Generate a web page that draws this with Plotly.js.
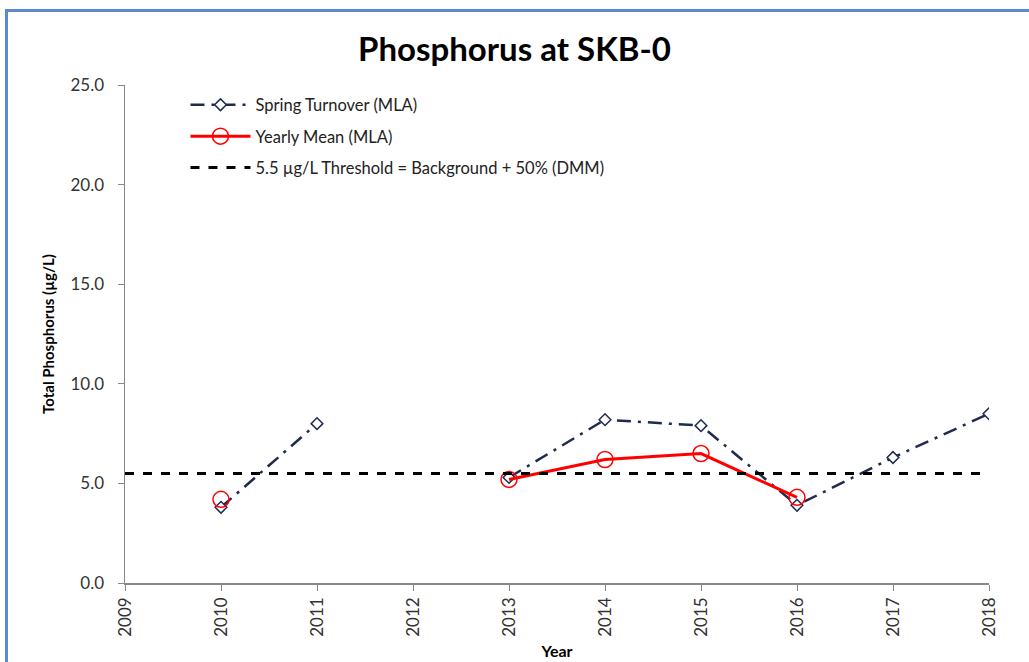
<!DOCTYPE html>
<html>
<head>
<meta charset="utf-8">
<script src="https://cdn.plot.ly/plotly-3.0.1.min.js"></script>
<style>
html,body{margin:0;padding:0;background:#fff;width:1029px;height:662px;overflow:hidden;}
#chart{position:absolute;left:0;top:0;width:1029px;height:662px;}
#frame{position:absolute;left:5px;top:9px;width:1060px;height:700px;border:3px solid #5a8ad0;pointer-events:none;}
</style>
</head>
<body>
<div id="chart"></div>
<div id="frame"></div>
<script>
const years = [2010, 2011, 2012, 2013, 2014, 2015, 2016, 2017, 2018];
const springTurnover = [3.8, 8.0, null, 5.3, 8.2, 7.9, 3.9, 6.3, 8.5];
const yearlyMean = [4.2, null, null, 5.2, 6.2, 6.5, 4.3, null, null];
const thresholdYears = [2009, 2018];
const thresholdValues = [5.5, 5.5];
const tickYears = [2009, 2010, 2011, 2012, 2013, 2014, 2015, 2016, 2017, 2018];

const font = "Lato, 'Open Sans', sans-serif";

const traces = [
  {
    x: years, y: springTurnover, name: 'Spring Turnover (MLA)', legendgroup: 'a',
    type: 'scatter', mode: 'lines+markers', connectgaps: false,
    line: {color: '#1f2a4f', width: 2.5, dash: '14px,7px,3px,7px'},
    marker: {symbol: 'diamond', size: 9, color: '#ffffff', line: {width: 1.5, color: '#1f2a4f'}}
  },
  {
    x: years, y: yearlyMean, name: 'Yearly Mean (MLA)', legendgroup: 'b',
    type: 'scatter', mode: 'lines+markers', connectgaps: false,
    line: {color: '#ff0000', width: 3},
    marker: {symbol: 'circle-open', size: 16, color: '#ff0000', line: {width: 1.5}}
  },
  {
    x: thresholdYears, y: thresholdValues, name: '5.5 µg/L Threshold = Background + 50% (DMM)', legendgroup: 'c',
    type: 'scatter', mode: 'lines',
    line: {color: '#000000', width: 3, dash: 'dash'}
  }
];

const layout = {
  width: 1029, height: 662,
  margin: {l: 125, r: 40, t: 85, b: 79},
  paper_bgcolor: '#ffffff', plot_bgcolor: '#ffffff',
  font: {family: font, size: 15, color: '#333'},
  title: {text: '<b>Phosphorus at SKB-0</b>', font: {family: font, size: 33, color: '#000'}, x: 0.5, xanchor: 'center', y: 0.925, yanchor: 'middle'},
  showlegend: true,
  legend: {x: 0.07, y: 0.995, xanchor: 'left', yanchor: 'top', bgcolor: 'rgba(0,0,0,0)', font: {family: font, size: 16.5, color: '#222'}, tracegroupgap: 7, itemwidth: 60},
  xaxis: {
    range: [2009, 2018], tickvals: tickYears, ticktext: tickYears.map(String),
    tickangle: -90, showgrid: false, zeroline: false,
    showline: true, linecolor: '#888', linewidth: 1.5,
    ticks: 'outside', ticklen: 6, tickcolor: '#888',
    tickfont: {family: font, size: 17, color: '#333'},
    title: {text: '<b>Year</b>', font: {family: font, size: 16, color: '#000'}, standoff: 10}
  },
  yaxis: {
    range: [0, 25], dtick: 5, tick0: 0, tickformat: '.1f',
    showgrid: false, zeroline: false,
    showline: true, linecolor: '#888', linewidth: 1.5,
    ticks: 'outside', ticklen: 6, tickcolor: '#888', ticklabelstandoff: 10,
    tickfont: {family: font, size: 17, color: '#333'},
    title: {text: '<b>Total Phosphorus (µg/L)</b>', font: {family: font, size: 15, color: '#000'}, standoff: 12}
  }
};

Plotly.newPlot('chart', traces, layout, {displayModeBar: false, staticPlot: true});
</script>
</body>
</html>
